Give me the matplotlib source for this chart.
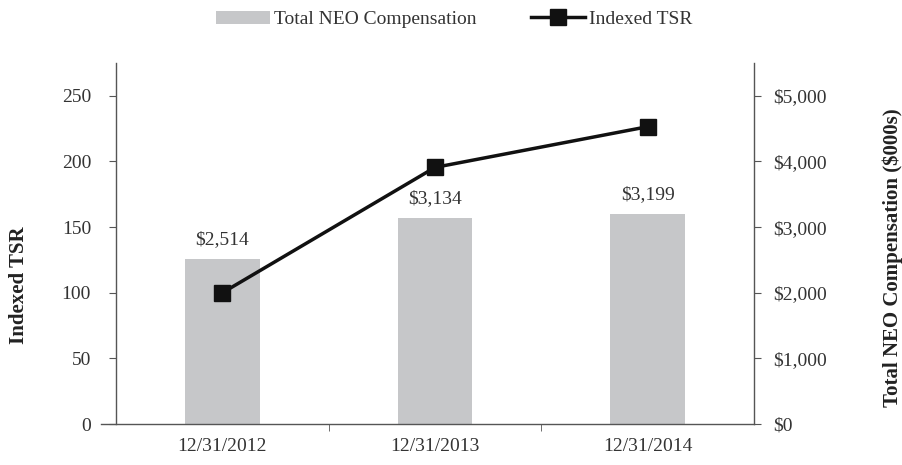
import matplotlib
matplotlib.use("Agg")
import matplotlib.pyplot as plt
import numpy as np

categories = ["12/31/2012", "12/31/2013", "12/31/2014"]
neo_comp = [2514, 3134, 3199]
tsr = [100, 195.5, 226.5]
bar_labels = ["$2,514", "$3,134", "$3,199"]
left_ticks = [0, 50, 100, 150, 200, 250]
right_ticks = [0, 1000, 2000, 3000, 4000, 5000]
right_ticklabels = ["$0", "$1,000", "$2,000", "$3,000", "$4,000", "$5,000"]

plt.rcParams['font.family'] = ['Liberation Serif', 'DejaVu Serif']
txt = '#333333'
fs = 14

fig = plt.figure(figsize=(9.03, 4.65), dpi=100)
ax = fig.add_axes([0.1285, 0.088, 0.7065, 0.7765])
ax2 = ax.twinx()

x = np.arange(len(categories))
bars = ax2.bar(x, neo_comp, width=0.35, color='#c6c7c9', label='Total NEO Compensation', zorder=1)
for xi, v, lab in zip(x, neo_comp, bar_labels):
    ax2.text(xi, v + 170, lab, ha='center', va='bottom', fontsize=fs, color=txt)
ax2.set_ylim(0, 5500)
ax2.set_yticks(right_ticks)
ax2.set_yticklabels(right_ticklabels)

ax.set_zorder(ax2.get_zorder() + 1)
ax.patch.set_visible(False)
line, = ax.plot(x, tsr, color='#111111', lw=2.5, marker='s', markersize=11,
                markerfacecolor='#111111', label='Indexed TSR', zorder=3)
ax.set_ylim(0, 275)
ax.set_yticks(left_ticks)
ax.set_xlim(-0.5, 2.5)
ax.set_xticks(x)
ax.set_xticklabels(categories)
ax.set_xticks([0.5, 1.5], minor=True)
ax.tick_params(axis='x', which='major', length=0, pad=10, labelsize=fs, labelcolor=txt)
ax.tick_params(axis='x', which='minor', length=5, color='#555555')
ax.tick_params(axis='y', length=5, direction='out', labelsize=fs, labelcolor=txt, color='#555555', pad=13)
ax2.tick_params(axis='y', length=5, direction='out', labelsize=fs, labelcolor=txt, color='#555555', pad=9)

for a in (ax, ax2):
    a.spines['top'].set_visible(False)
    for s in ('left', 'right', 'bottom'):
        a.spines[s].set_color('#555555')
        a.spines[s].set_linewidth(1.0)
ax.spines['right'].set_visible(False)
ax2.spines['left'].set_visible(False)
ax2.spines['bottom'].set_visible(False)
ax.spines['bottom'].set_bounds(-0.57, 2.5)

ax.set_ylabel('Indexed TSR', fontsize=15, fontweight='bold', color='#222222')
ax.yaxis.label.set_va('center')
ax.yaxis.set_label_coords(-0.152, 0.385)
ax2.set_ylabel('Total NEO Compensation ($000s)', fontsize=15, fontweight='bold', color='#222222')
ax2.yaxis.label.set_va('center')
ax2.yaxis.set_label_coords(1.218, 0.46)

fig.legend([bars, line], ['Total NEO Compensation', 'Indexed TSR'], loc='upper center',
           bbox_to_anchor=(0.503, 1.015), ncol=2, frameon=False, fontsize=fs,
           handlelength=2.8, columnspacing=2.8, handletextpad=0.2, labelcolor=txt)

fig.savefig('out.png', dpi=100)
